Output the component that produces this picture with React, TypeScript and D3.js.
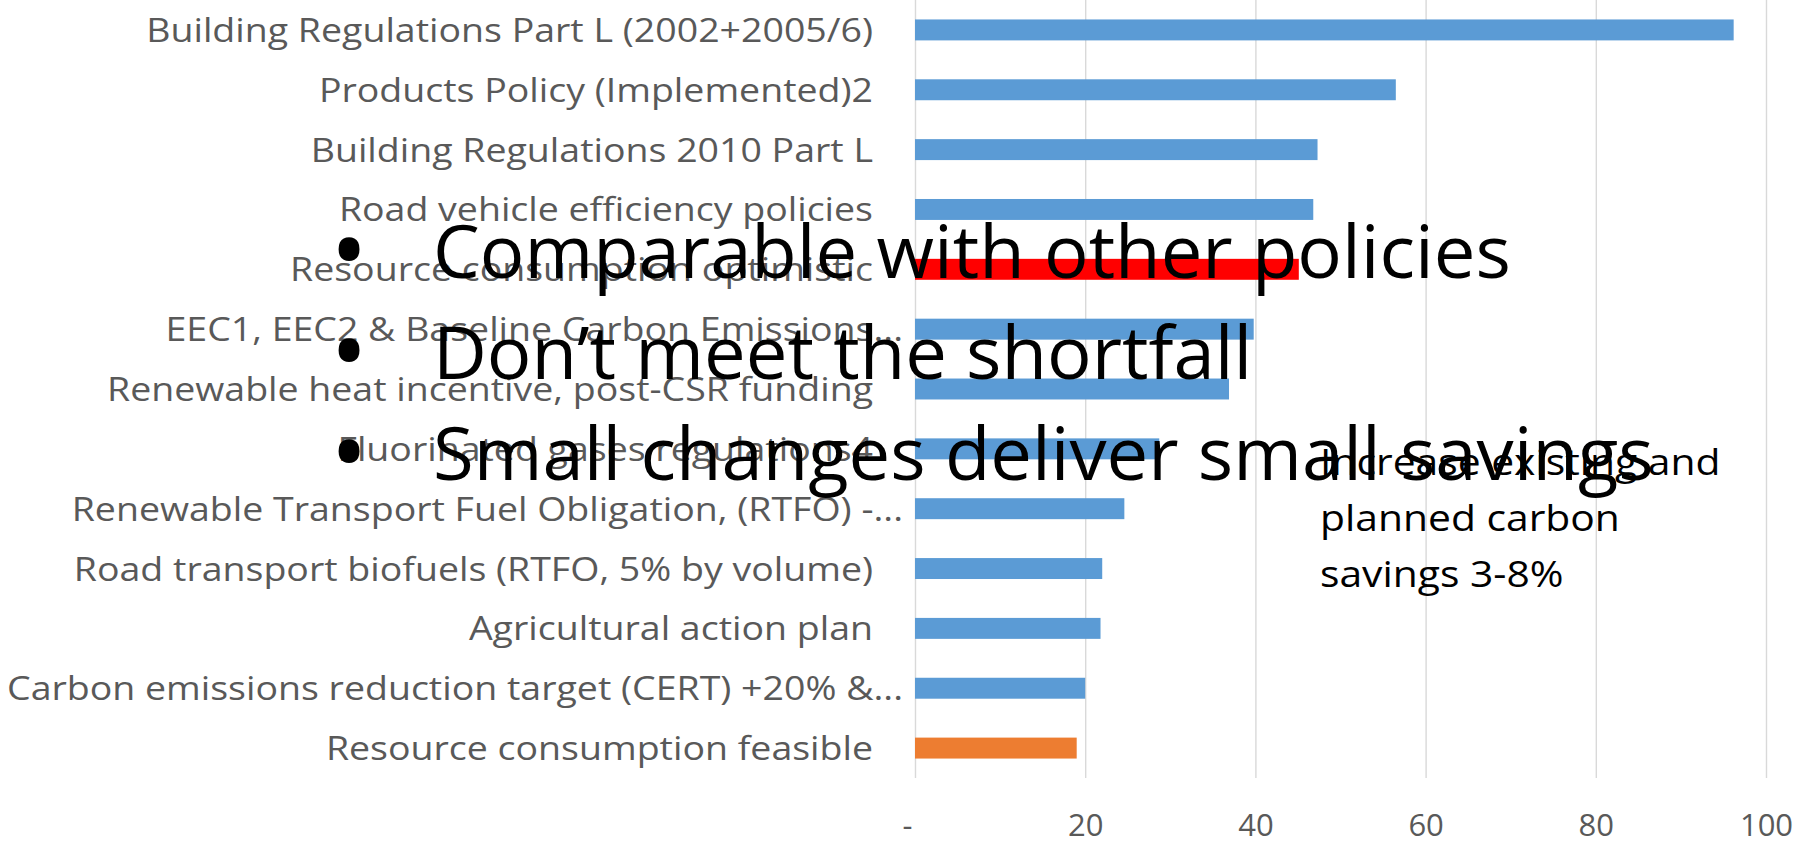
import React, { useEffect, useRef } from 'react'
import * as d3 from 'd3'

// categories top to bottom, savings values
const categories = [
  'Building Regulations Part L (2002+2005/6)',
  'Products Policy (Implemented)2',
  'Building Regulations 2010 Part L',
  'Road vehicle efficiency policies',
  'Resource consumption optimistic',
  'EEC1, EEC2 & Baseline Carbon Emissions...',
  'Renewable heat incentive, post-CSR funding',
  'Fluorinated gases regulations4',
  'Renewable Transport Fuel Obligation, (RTFO) -...',
  'Road transport biofuels (RTFO, 5% by volume)',
  'Agricultural action plan',
  'Carbon emissions reduction target (CERT) +20% &...',
  'Resource consumption feasible'
]
const savings = [96.2, 56.5, 47.3, 46.8, 45.1, 39.8, 36.9, 28.7, 24.6, 22.0, 21.8, 20.0, 19.0]
const xTicks = [0, 20, 40, 60, 80, 100]

const bullets = [
  'Comparable with other policies',
  'Don\u2019t meet the shortfall',
  'Small changes deliver small savings'
]
const note = ['Increase existing and', 'planned carbon', 'savings 3-8%']

const barColor = '#5B9BD5'
const highlight: Record<string, string> = {
  'Resource consumption optimistic': '#FF0000',
  'Resource consumption feasible': '#ED7D31'
}
const FONT = "'Open Sans', sans-serif"

export default function App () {
  const ref = useRef<SVGSVGElement>(null)

  useEffect(() => {
    document.body.style.margin = '0'
    const width = 1808
    const height = 842
    const svg = d3.select(ref.current)
    svg.selectAll('*').remove()
    svg.attr('width', width).attr('height', height)

    const x = d3.scaleLinear().domain([0, 100]).range([915, 1766])
    const y = d3.scaleBand().domain(categories).range([0, 778])
      .paddingInner(0.65).paddingOuter(0.325)

    // gridlines + tick labels
    const axis = svg.append('g')
      .attr('transform', 'translate(0,778)')
      .call(d3.axisBottom(x).tickValues(xTicks).tickSize(-778).tickPadding(36)
        .tickFormat(d => (+d === 0 ? '-\u00A0\u00A0' : String(d))))
    axis.select('.domain').remove()
    axis.selectAll('line').attr('stroke', '#D9D9D9').attr('stroke-width', 1.4)
    axis.selectAll('text').attr('fill', '#595959').style('font-family', FONT).style('font-size', '31px')

    // bars
    svg.append('g').selectAll('rect').data(categories).join('rect')
      .attr('x', x(0))
      .attr('y', d => y(d)!)
      .attr('height', y.bandwidth())
      .attr('width', (d, i) => x(savings[i]) - x(0))
      .attr('fill', d => highlight[d] || barColor)

    // category labels
    const labels = svg.append('g').selectAll('text').data(categories).join('text')
      .attr('text-anchor', 'end')
      .attr('fill', '#595959')
      .style('font-family', FONT)
      .style('font-size', '33px')
      .text(d => d)

    // big bullet text
    const big = svg.append('g')
    const bigText = big.selectAll('text.line').data(bullets).join('text')
      .attr('class', 'line')
      .attr('fill', '#000')
      .style('font-family', FONT)
      .style('font-size', '74px')
      .text(d => d)
    big.selectAll('text.dot').data(bullets).join('text')
      .attr('class', 'dot')
      .attr('x', 349)
      .attr('y', (d, i) => 286 + i * 101)
      .attr('text-anchor', 'middle')
      .style('font-family', FONT)
      .style('font-size', '100px')
      .text('\u2022')

    const small = svg.append('g').selectAll('text').data(note).join('text')
      .attr('fill', '#000')
      .style('font-family', FONT)
      .style('font-size', '37px')
      .text(d => d)

    const fit = () => {
      const measure = (sel: any, target: number, idx: number) => {
        const node = sel.nodes()[idx] as SVGTextElement
        node.removeAttribute('transform')
        return target / node.getComputedTextLength()
      }
      const kc = measure(labels, 727, 0)
      labels.attr('transform', d => {
        const xr = d.endsWith('...') ? 903 : 873
        return `translate(${xr},${y(d)! + y.bandwidth() / 2 + 12}) scale(${kc},1)`
      })
      const kb = measure(bigText, 1078, 0)
      bigText.attr('transform', (d, i) => `translate(433,${278 + i * 101}) scale(${kb},1)`)
      const ks = measure(small, 300, 1)
      small.attr('transform', (d, i) => `translate(1320,${475 + i * 56}) scale(${ks},1)`)
    }
    fit()
    if ((document as any).fonts) (document as any).fonts.ready.then(fit)
  }, [])

  return <svg ref={ref} />
}
